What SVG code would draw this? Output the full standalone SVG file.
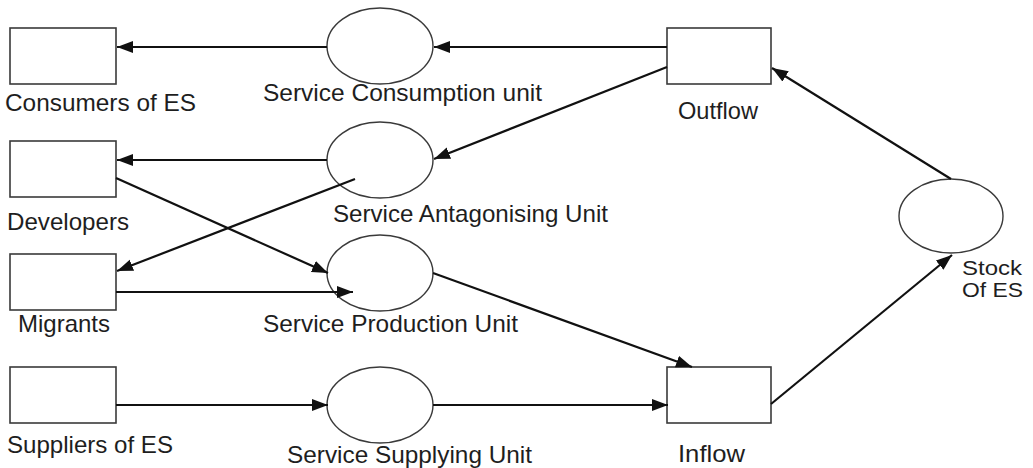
<svg xmlns="http://www.w3.org/2000/svg" width="1033" height="468" viewBox="0 0 1033 468">
  <style>
    .box { fill: #ffffff; stroke: #3a3a3a; stroke-width: 1.6; }
    .unit { fill: #ffffff; stroke: #3a3a3a; stroke-width: 1.4; }
    .lbl { font-family: "Liberation Sans", Arial, sans-serif; font-size: 24px; fill: #1e1e1e; }
    .small { font-size: 21px; }
    .flow { fill: none; stroke: #111111; stroke-width: 2.2; marker-end: url(#arrow); }
  </style>
  <defs>
    <marker id="arrow" markerUnits="userSpaceOnUse" markerWidth="17" markerHeight="13" refX="16" refY="6" orient="auto">
      <path d="M0,0 L16,6 L0,12 z" fill="#111111"/>
    </marker>
  </defs>
  <rect width="1033" height="468" fill="#ffffff"/>

  <g id="consumers">
    <rect class="box" x="10" y="28" width="106" height="56"/>
    <text class="lbl" x="5" y="111" textLength="191" lengthAdjust="spacingAndGlyphs">Consumers of ES</text>
  </g>
  <g id="developers">
    <rect class="box" x="10" y="141" width="106" height="56"/>
    <text class="lbl" x="7" y="230" textLength="122" lengthAdjust="spacingAndGlyphs">Developers</text>
  </g>
  <g id="migrants">
    <rect class="box" x="10" y="254" width="106" height="56"/>
    <text class="lbl" x="18" y="332" textLength="92" lengthAdjust="spacingAndGlyphs">Migrants</text>
  </g>
  <g id="suppliers">
    <rect class="box" x="10" y="367" width="106" height="56"/>
    <text class="lbl" x="7" y="453" textLength="166" lengthAdjust="spacingAndGlyphs">Suppliers of ES</text>
  </g>

  <g id="consumption-unit">
    <ellipse class="unit" cx="380" cy="46" rx="53" ry="38"/>
    <text class="lbl" x="263" y="101" textLength="279" lengthAdjust="spacingAndGlyphs">Service Consumption unit</text>
  </g>
  <g id="antagonising-unit">
    <ellipse class="unit" cx="380" cy="160" rx="53" ry="38"/>
    <text class="lbl" x="333" y="222" textLength="275" lengthAdjust="spacingAndGlyphs">Service Antagonising Unit</text>
  </g>
  <g id="production-unit">
    <ellipse class="unit" cx="380" cy="273" rx="53" ry="38"/>
    <text class="lbl" x="263" y="332" textLength="255" lengthAdjust="spacingAndGlyphs">Service Production Unit</text>
  </g>
  <g id="supplying-unit">
    <ellipse class="unit" cx="380" cy="405" rx="53" ry="38"/>
    <text class="lbl" x="287" y="463" textLength="245" lengthAdjust="spacingAndGlyphs">Service Supplying Unit</text>
  </g>

  <g id="outflow">
    <rect class="box" x="667" y="28" width="104" height="56"/>
    <text class="lbl" x="678" y="119" textLength="80" lengthAdjust="spacingAndGlyphs">Outflow</text>
  </g>
  <g id="inflow">
    <rect class="box" x="667" y="367" width="104" height="56"/>
    <text class="lbl" x="678" y="462" textLength="67" lengthAdjust="spacingAndGlyphs">Inflow</text>
  </g>

  <g id="stock">
    <ellipse class="unit" cx="951" cy="216" rx="52" ry="37"/>
    <text class="lbl small" x="962" y="275" textLength="60" lengthAdjust="spacingAndGlyphs">Stock</text>
    <text class="lbl small" x="962" y="297" textLength="61" lengthAdjust="spacingAndGlyphs">Of ES</text>
  </g>

  <!-- flows between actors, units and stock, drawn over the shapes -->
  <g id="connectors">
    <line class="flow" x1="667" y1="47" x2="434" y2="47"/>
    <line class="flow" x1="327" y1="47" x2="117" y2="47"/>
    <line class="flow" x1="667" y1="67" x2="434" y2="159"/>
    <line class="flow" x1="327" y1="160" x2="117" y2="160"/>
    <line class="flow" x1="116" y1="178" x2="328" y2="273"/>
    <line class="flow" x1="355" y1="179" x2="117" y2="271"/>
    <line class="flow" x1="116" y1="292" x2="353" y2="292"/>
    <line class="flow" x1="433" y1="273" x2="692" y2="367"/>
    <line class="flow" x1="116" y1="405" x2="328" y2="405"/>
    <line class="flow" x1="433" y1="405" x2="668" y2="405"/>
    <line class="flow" x1="771" y1="404" x2="952" y2="255"/>
    <line class="flow" x1="951" y1="179" x2="772" y2="68"/>
  </g>
</svg>
